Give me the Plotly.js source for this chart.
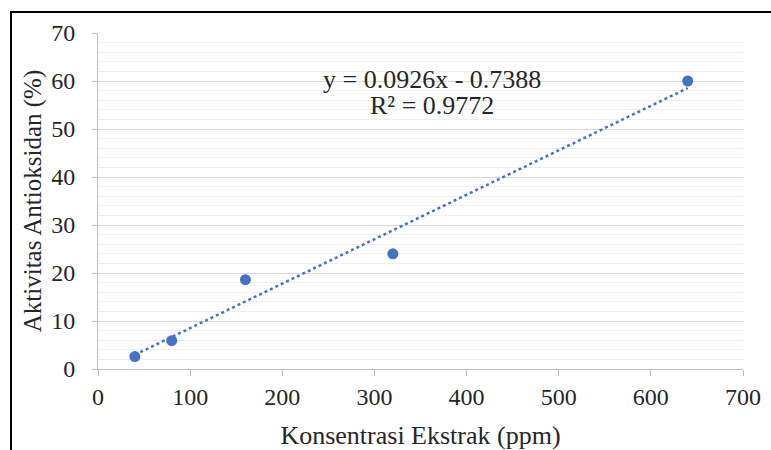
<!DOCTYPE html>
<html>
<head>
<meta charset="utf-8">
<script src="https://cdn.plot.ly/plotly-3.0.1.min.js"></script>
<style>
html,body{margin:0;padding:0;background:#fff;}
#chart{width:771px;height:450px;}
</style>
</head>
<body>
<div id="chart"></div>
<script>
// Data
const konsentrasi = [40, 80, 160, 320, 640];
const aktivitas = [2.6, 5.9, 18.6, 24.0, 60.0];
// Linear trendline as stated on the chart: y = 0.0926x - 0.7388
const trendSlope = 0.0926;
const trendIntercept = -0.7388;
const trendX = [40, 640];
const trendY = trendX.map(x => trendSlope * x + trendIntercept);
const xTicks = [0, 100, 200, 300, 400, 500, 600, 700];
const yTicks = [0, 10, 20, 30, 40, 50, 60, 70];
const yMinorTicks = [2, 4, 6, 8, 12, 14, 16, 18, 22, 24, 26, 28, 32, 34, 36, 38,
                     42, 44, 46, 48, 52, 54, 56, 58, 62, 64, 66, 68];
const eqLine1 = 'y = 0.0926x - 0.7388';
const eqLine2 = 'R² = 0.9772';

const blue = '#4472C4';
const font = 'Liberation Serif';
const textColor = '#262626';

const traces = [
  {x: trendX, y: trendY, type: 'scatter', mode: 'lines',
   line: {color: blue, width: 2.5, dash: 'dot'}, hoverinfo: 'skip', showlegend: false},
  {x: konsentrasi, y: aktivitas, type: 'scatter', mode: 'markers', yaxis: 'y2',
   marker: {color: blue, size: 11, line: {width: 0}}, showlegend: false}
];

const layout = {
  width: 771, height: 450,
  margin: {l: 98, r: 28, t: 33, b: 81},
  paper_bgcolor: '#fff', plot_bgcolor: '#fff',
  font: {family: font, color: textColor, size: 24},
  showlegend: false,
  xaxis: {
    range: [0, 700], tickvals: xTicks, ticktext: xTicks.map(String),
    showgrid: false, zeroline: false,
    showline: true, linecolor: '#bfbfbf', linewidth: 1,
    ticks: 'outside', ticklen: 6, tickcolor: '#bfbfbf', tickwidth: 1,
    tickfont: {family: font, size: 24, color: textColor},
    title: {text: 'Konsentrasi Ekstrak (ppm)', font: {family: font, size: 26, color: textColor}, standoff: 18},
    automargin: false
  },
  yaxis: {
    range: [0, 70], tickvals: yTicks, ticktext: yTicks.map(String),
    showgrid: true, gridcolor: '#d9d9d9', gridwidth: 1, zeroline: false,
    showline: true, linecolor: '#bfbfbf', linewidth: 1,
    ticks: 'outside', ticklen: 5, tickcolor: '#bfbfbf', tickwidth: 1,
    ticklabelstandoff: 12,
    tickfont: {family: font, size: 24, color: textColor},
    title: {text: 'Aktivitas Antioksidan (%)', font: {family: font, size: 25, color: textColor}, standoff: 2},
    automargin: false
  },
  yaxis2: {
    overlaying: 'y', side: 'left', range: [0, 70], tickvals: yMinorTicks,
    showgrid: true, gridcolor: '#eeeeee', gridwidth: 1,
    showticklabels: false, ticks: '', showline: false, zeroline: false, automargin: false
  },
  annotations: [
    {x: 362, y: 60.4, xref: 'x', yref: 'y', text: eqLine1, showarrow: false,
     xanchor: 'center', yanchor: 'middle', font: {family: font, size: 26, color: textColor}},
    {x: 362, y: 55.0, xref: 'x', yref: 'y', text: eqLine2, showarrow: false,
     xanchor: 'center', yanchor: 'middle', font: {family: font, size: 26, color: textColor}}
  ],
  shapes: [
    {type: 'rect', xref: 'paper', yref: 'paper',
     x0: (11 - 98) / 645, x1: (776 - 98) / 645,
     y0: (369 - 460) / 336, y1: (369 - 12) / 336,
     line: {color: '#000', width: 2}, fillcolor: 'rgba(0,0,0,0)'}
  ]
};

Plotly.newPlot('chart', traces, layout, {displayModeBar: false, staticPlot: true});
</script>
</body>
</html>
